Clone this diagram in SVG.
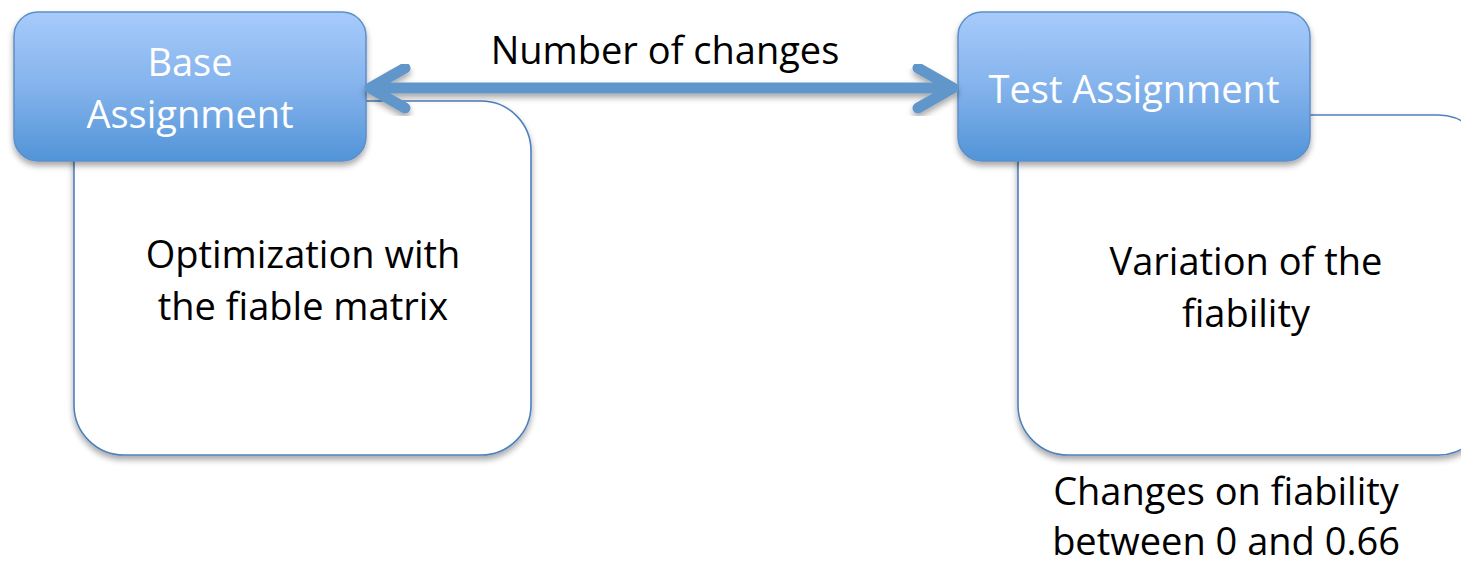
<svg xmlns="http://www.w3.org/2000/svg" width="1461" height="565" viewBox="0 0 1461 565">
  <defs>
    <linearGradient id="hdr" x1="0" y1="0" x2="0" y2="1">
      <stop offset="0" stop-color="#a7cbfb"/>
      <stop offset="0.5" stop-color="#84b3ec"/>
      <stop offset="1" stop-color="#5294d8"/>
    </linearGradient>
    <filter id="shadow" x="-10%" y="-10%" width="120%" height="130%">
      <feGaussianBlur in="SourceAlpha" stdDeviation="3"/>
      <feOffset dx="0" dy="4" result="b"/>
      <feComponentTransfer><feFuncA type="linear" slope="0.35"/></feComponentTransfer>
      <feMerge><feMergeNode/><feMergeNode in="SourceGraphic"/></feMerge>
    </filter>
  </defs>
  <style>
    .panel { fill: #ffffff; stroke: #4f81bd; stroke-width: 1.6; }
    .head { fill: url(#hdr); stroke: #5e8fc9; stroke-width: 1.5; }
    .htxt { font-family: "Open Sans", "Liberation Sans", sans-serif; font-size: 38px; fill: #ffffff; text-anchor: middle; }
    .btxt { font-family: "Open Sans", "Liberation Sans", sans-serif; font-size: 38px; fill: #000000; text-anchor: middle; }
    .link { fill: none; stroke: #6196c9; stroke-width: 11; stroke-linecap: round; stroke-linejoin: round; }
  </style>

  <!-- Base assignment: detail panel behind its header -->
  <g id="base-assignment">
    <rect class="panel" x="74" y="101" width="457" height="354" rx="50" filter="url(#shadow)"/>
    <rect class="head" x="14" y="12" width="352" height="149" rx="24" filter="url(#shadow)"/>
    <text class="htxt" x="190" y="76">Base</text>
    <text class="htxt" x="190" y="128">Assignment</text>
    <text class="btxt" x="303" y="268">Optimization with</text>
    <text class="btxt" x="303" y="320">the fiable matrix</text>
  </g>

  <!-- Test assignment: detail panel runs off the right edge -->
  <g id="test-assignment">
    <rect class="panel" x="1018" y="115" width="470" height="340" rx="50" filter="url(#shadow)"/>
    <rect class="head" x="958" y="12" width="352" height="149" rx="24" filter="url(#shadow)"/>
    <text class="htxt" x="1134" y="103">Test Assignment</text>
    <text class="btxt" x="1246" y="275">Variation of the</text>
    <text class="btxt" x="1246" y="327">fiability</text>
  </g>

  <!-- Note under the test panel -->
  <g id="fiability-note">
    <text class="btxt" x="1226" y="505">Changes on fiability</text>
    <text class="btxt" x="1226" y="555">between 0 and 0.66</text>
  </g>

  <!-- Two-way connector between the headers -->
  <g id="connectors">
    <g filter="url(#shadow)">
      <line class="link" x1="372" y1="88" x2="951" y2="88"/>
      <polyline class="link" points="405,68 370,88 405,108"/>
      <polyline class="link" points="918,68 953,88 918,108"/>
    </g>
    <text class="btxt" x="665" y="64">Number of changes</text>
  </g>
</svg>
